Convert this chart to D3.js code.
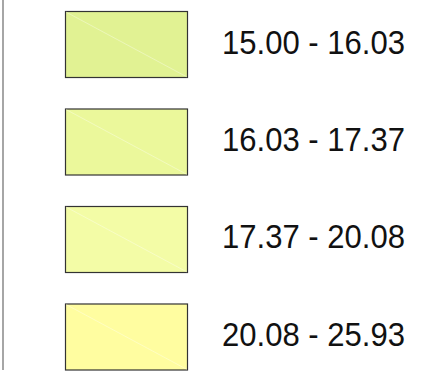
<!DOCTYPE html>
<html>
<head>
<meta charset="utf-8">
<script src="https://cdn.jsdelivr.net/npm/d3@7"></script>
<style>
  body { margin: 0; background: #fff; }
  text { font-family: "Liberation Sans", Arial, sans-serif; }
</style>
</head>
<body>
<div id="chart-container"></div>
<script>
// legend classes
const classLabels = ["15.00 - 16.03", "16.03 - 17.37", "17.37 - 20.08", "20.08 - 25.93"];
const classColors = ["#e1f293", "#ebf89b", "#f3fca6", "#fffda0"];

const width = 425, height = 375;

const svg = d3.select("#chart-container")
    .append("svg")
    .attr("width", width)
    .attr("height", height);

// frame line on the left
svg.append("line")
    .attr("x1", 3).attr("x2", 3)
    .attr("y1", 0).attr("y2", 370)
    .attr("stroke", "#888")
    .attr("stroke-width", 1.5);

const y = d3.scaleBand()
    .domain(classLabels)
    .range([11, 369.5])
    .paddingInner(0.323)
    .paddingOuter(0);

const x = d3.scaleLinear().domain([0, 1]).range([65, 187]);

const rows = svg.selectAll(".row")
    .data(classLabels)
    .enter().append("g")
    .attr("class", "row");

rows.append("rect")
    .attr("x", x(0) + 0.5)
    .attr("y", d => y(d) + 0.5)
    .attr("width", x(1) - x(0))
    .attr("height", y.bandwidth())
    .attr("fill", (d, i) => classColors[i])
    .attr("stroke", "#333")
    .attr("stroke-width", 1.2);

// faint diagonal seen inside each swatch
rows.append("line")
    .attr("x1", x(0) + 1)
    .attr("y1", d => y(d) + 1)
    .attr("x2", x(1))
    .attr("y2", d => y(d) + y.bandwidth())
    .attr("stroke", "#fff")
    .attr("stroke-opacity", 0.35)
    .attr("stroke-width", 1);

// labels are a bit condensed in the original
rows.append("text")
    .attr("x", 222)
    .attr("y", d => y(d) + y.bandwidth() / 2 + 9.5)
    .attr("font-size", "33px")
    .attr("textLength", 183)
    .attr("lengthAdjust", "spacingAndGlyphs")
    .attr("fill", "#111")
    .text(d => d);
</script>
</body>
</html>
